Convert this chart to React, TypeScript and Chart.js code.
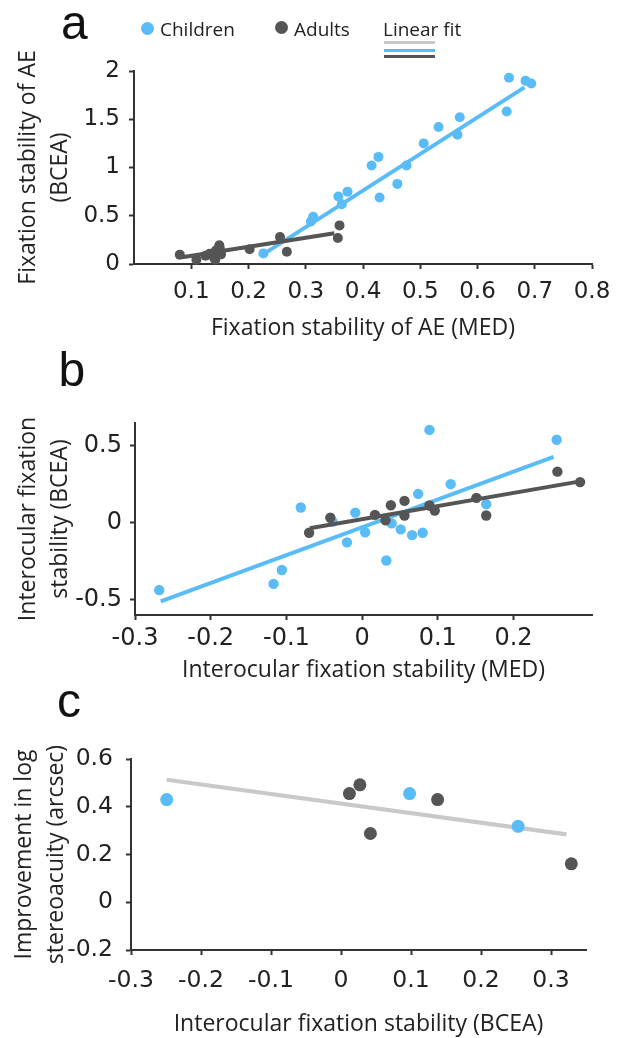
import React, { useEffect, useRef } from "react";
import { Chart, registerables } from "chart.js";

Chart.register(...registerables);

const BLUE = "#5abcf7";
const DARK = "#555555";
const LIGHT_GRAY = "#c9c9c9";
const INK = "#222222";
const AXIS = "#333333";

// ---------- Panel a ----------
const aChildX = [0.226, 0.309, 0.313, 0.357, 0.363, 0.373, 0.415, 0.427, 0.429, 0.46, 0.476, 0.506, 0.532, 0.569, 0.565, 0.651, 0.655, 0.684, 0.694];
const aChildY = [0.11, 0.44, 0.49, 0.7, 0.62, 0.75, 1.02, 1.11, 0.69, 0.83, 1.02, 1.25, 1.42, 1.52, 1.34, 1.58, 1.93, 1.9, 1.87];
const aAdultX = [0.08, 0.109, 0.125, 0.132, 0.14, 0.142, 0.143, 0.149, 0.15, 0.152, 0.202, 0.255, 0.267, 0.356, 0.359];
const aAdultY = [0.097, 0.045, 0.085, 0.105, 0.065, 0.045, 0.14, 0.195, 0.16, 0.1, 0.153, 0.28, 0.127, 0.27, 0.4];
const aFitChildX = [0.231, 0.682];
const aFitChildY = [0.121, 1.83];
const aFitAdultX = [0.084, 0.35];
const aFitAdultY = [0.069, 0.319];
const aXTicks = [0.1, 0.2, 0.3, 0.4, 0.5, 0.6, 0.7, 0.8];
const aYTicks = [0, 0.5, 1, 1.5, 2];

// ---------- Panel b ----------
const bChildX = [-0.268, -0.117, -0.106, -0.081, -0.039, -0.02, -0.009, 0.004, 0.032, 0.039, 0.051, 0.066, 0.074, 0.08, 0.089, 0.117, 0.164, 0.257];
const bChildY = [-0.44, -0.4, -0.31, 0.096, 0.004, -0.13, 0.063, -0.065, -0.248, -0.007, -0.046, -0.083, 0.185, -0.068, 0.6, 0.248, 0.118, 0.536];
const bAdultX = [-0.07, -0.042, 0.017, 0.031, 0.038, 0.056, 0.056, 0.089, 0.096, 0.151, 0.164, 0.258, 0.288];
const bAdultY = [-0.068, 0.03, 0.048, 0.013, 0.111, 0.139, 0.044, 0.109, 0.076, 0.159, 0.044, 0.329, 0.261];
const bFitChildX = [-0.266, 0.253];
const bFitChildY = [-0.514, 0.425];
const bFitAdultX = [-0.069, 0.288];
const bFitAdultY = [-0.039, 0.266];
const bXTicks = [-0.3, -0.2, -0.1, 0, 0.1, 0.2];
const bYTicks = [-0.5, 0, 0.5];

// ---------- Panel c ----------
const cChildX = [-0.249, 0.098, 0.253];
const cChildY = [0.43, 0.455, 0.318];
const cAdultX = [0.012, 0.027, 0.042, 0.138, 0.329];
const cAdultY = [0.455, 0.492, 0.288, 0.43, 0.161];
const cFitX = [-0.249, 0.322];
const cFitY = [0.513, 0.284];
const cXTicks = [-0.3, -0.2, -0.1, 0, 0.1, 0.2, 0.3];
const cYTicks = [-0.2, 0, 0.2, 0.4, 0.6];

const W = 626;
const TITLE_SIZE = 23;
const X_TITLE_LH = 1.2;
const Y_TITLE_LH = 1.4;
const TICK_FAMILY = "'DejaVu Sans', 'Liberation Sans', Arial, sans-serif";

function pts(xs: number[], ys: number[]) {
  return xs.map((x, i) => ({ x, y: ys[i] }));
}
function fmt(v: number) {
  return String(Math.round(v * 100) / 100);
}

function pointSet(label: string, xs: number[], ys: number[], color: string, r: number) {
  return {
    label,
    data: pts(xs, ys),
    showLine: false,
    pointRadius: r,
    pointHoverRadius: r,
    pointBackgroundColor: color,
    pointBorderColor: color,
    pointBorderWidth: 0,
    clip: false,
  };
}
function lineSet(label: string, xs: number[], ys: number[], color: string, w: number) {
  return {
    label,
    data: pts(xs, ys),
    showLine: true,
    borderColor: color,
    backgroundColor: color,
    borderWidth: w,
    borderCapStyle: "butt",
    pointRadius: 0,
    pointHoverRadius: 0,
    clip: false,
  };
}

interface PanelSpec {
  canvasTop: number;
  canvasHeight: number;
  left: number;
  right: number;
  top: number;
  bottom: number;
  xTitleY: number;
  yTitleX: number;
  xMin: number;
  xMax: number;
  yMin: number;
  yMax: number;
  xTicks: number[];
  yTicks: number[];
  xTitle: string;
  yTitle: string[];
  tickSize: number;
  xTickPad: number;
  yTickPad: number;
  datasets: any[];
}

function buildConfig(s: PanelSpec): any {
  const xLH = TITLE_SIZE * X_TITLE_LH;
  const yLH = TITLE_SIZE * Y_TITLE_LH;
  const padL = s.yTitleX - yLH / 2;
  const padT = s.top - s.canvasTop;
  const padR = W - s.right;
  const scaleBottom = s.xTitleY - s.canvasTop + xLH / 2;
  const padB = s.canvasHeight - scaleBottom;
  const yWidth = s.left - padL;
  const xHeight = scaleBottom - (s.bottom - s.canvasTop);
  const tickFont = { family: TICK_FAMILY, size: s.tickSize, lineHeight: 1.2 };
  const grid = {
    display: true,
    drawOnChartArea: false,
    drawTicks: true,
    tickLength: 5,
    tickWidth: 2,
    tickColor: AXIS,
  };
  const border = { display: true, color: AXIS, width: 2 };
  return {
    type: "scatter",
    data: { datasets: s.datasets },
    options: {
      animation: false,
      responsive: false,
      maintainAspectRatio: false,
      devicePixelRatio: 1,
      events: [],
      layout: { padding: { left: padL, right: padR, top: padT, bottom: padB } },
      plugins: { legend: { display: false }, tooltip: { enabled: false }, title: { display: false } },
      scales: {
        x: {
          type: "linear",
          position: "bottom",
          min: s.xMin,
          max: s.xMax,
          afterBuildTicks: (sc: any) => {
            sc.ticks = s.xTicks.map((v) => ({ value: v }));
          },
          afterFit: (sc: any) => {
            sc.height = xHeight;
          },
          ticks: {
            autoSkip: false,
            maxRotation: 0,
            minRotation: 0,
            padding: s.xTickPad,
            font: tickFont,
            color: INK,
            callback: (v: any) => fmt(Number(v)),
          },
          grid,
          border,
          title: {
            display: true,
            text: s.xTitle,
            color: INK,
            padding: 0,
            font: { family: "'Open Sans', sans-serif", size: TITLE_SIZE, lineHeight: X_TITLE_LH },
          },
        },
        y: {
          type: "linear",
          position: "left",
          min: s.yMin,
          max: s.yMax,
          afterBuildTicks: (sc: any) => {
            sc.ticks = s.yTicks.map((v) => ({ value: v }));
          },
          afterFit: (sc: any) => {
            sc.width = yWidth;
          },
          ticks: {
            autoSkip: false,
            padding: s.yTickPad,
            font: tickFont,
            color: INK,
            callback: (v: any) => fmt(Number(v)),
          },
          grid,
          border,
          title: {
            display: true,
            text: s.yTitle,
            color: INK,
            padding: 0,
            font: { family: "'Open Sans', sans-serif", size: TITLE_SIZE, lineHeight: Y_TITLE_LH },
          },
        },
      },
    },
  };
}

const specA: PanelSpec = {
  canvasTop: 0,
  canvasHeight: 346,
  left: 134,
  right: 592,
  top: 71,
  bottom: 264,
  xTitleY: 328,
  yTitleX: 28,
  xMin: 0,
  xMax: 0.8,
  yMin: 0,
  yMax: 2,
  xTicks: aXTicks,
  yTicks: aYTicks,
  xTitle: "Fixation stability of AE (MED)",
  yTitle: ["Fixation stability of AE", "(BCEA)"],
  tickSize: 23,
  xTickPad: 9,
  yTickPad: 9,
  datasets: [
    lineSet("Adults fit", aFitAdultX, aFitAdultY, DARK, 4),
    pointSet("Adults", aAdultX, aAdultY, DARK, 5),
    lineSet("Children fit", aFitChildX, aFitChildY, BLUE, 4),
    pointSet("Children", aChildX, aChildY, BLUE, 5),
  ],
};

const specB: PanelSpec = {
  canvasTop: 340,
  canvasHeight: 350,
  left: 135,
  right: 592,
  top: 423,
  bottom: 615,
  xTitleY: 670,
  yTitleX: 28,
  xMin: -0.3,
  xMax: 0.3037,
  yMin: -0.602,
  yMax: 0.645,
  xTicks: bXTicks,
  yTicks: bYTicks,
  xTitle: "Interocular fixation stability (MED)",
  yTitle: ["Interocular fixation", "stability (BCEA)"],
  tickSize: 24,
  xTickPad: 4,
  yTickPad: 8,
  datasets: [
    lineSet("Adults fit", bFitAdultX, bFitAdultY, DARK, 4),
    pointSet("Adults", bAdultX, bAdultY, DARK, 5.2),
    lineSet("Children fit", bFitChildX, bFitChildY, BLUE, 4),
    pointSet("Children", bChildX, bChildY, BLUE, 5.2),
  ],
};

const specC: PanelSpec = {
  canvasTop: 692,
  canvasHeight: 346,
  left: 131,
  right: 586,
  top: 759,
  bottom: 950,
  xTitleY: 1024,
  yTitleX: 24,
  xMin: -0.3,
  xMax: 0.35,
  yMin: -0.2,
  yMax: 0.6,
  xTicks: cXTicks,
  yTicks: cYTicks,
  xTitle: "Interocular fixation stability (BCEA)",
  yTitle: ["Improvement in log", "stereoacuity (arcsec)"],
  tickSize: 23.5,
  xTickPad: 12,
  yTickPad: 13,
  datasets: [
    pointSet("Adults", cAdultX, cAdultY, DARK, 6.5),
    pointSet("Children", cChildX, cChildY, BLUE, 6.5),
    lineSet("Linear fit", cFitX, cFitY, LIGHT_GRAY, 4.2),
  ],
};

function Panel({ spec }: { spec: PanelSpec }) {
  const ref = useRef<HTMLCanvasElement | null>(null);
  useEffect(() => {
    if (!ref.current) return;
    const chart = new Chart(ref.current, buildConfig(spec));
    return () => chart.destroy();
  }, [spec]);
  return (
    <canvas
      ref={ref}
      width={W}
      height={spec.canvasHeight}
      style={{ position: "absolute", left: 0, top: spec.canvasTop, width: W, height: spec.canvasHeight }}
    />
  );
}

const LETTER_FONT = "'Liberation Sans', Arial, sans-serif";
function Letter({ text, left, baseline }: { text: string; left: number; baseline: number }) {
  // line-height 48px => baseline sits ~40.6px below top for Liberation Sans
  return (
    <div
      style={{
        position: "absolute",
        left,
        top: baseline - 40.6,
        fontFamily: LETTER_FONT,
        fontSize: 48,
        lineHeight: "48px",
        color: "#111",
        whiteSpace: "nowrap",
      }}
    >
      {text}
    </div>
  );
}

const LEG_FONT = "'Open Sans', sans-serif";
function LegText({ text, left, baseline }: { text: string; left: number; baseline: number }) {
  return (
    <div
      style={{
        position: "absolute",
        left,
        top: baseline - 16.9,
        fontFamily: LEG_FONT,
        fontSize: 19,
        lineHeight: "19px",
        color: INK,
        whiteSpace: "nowrap",
      }}
    >
      {text}
    </div>
  );
}
function Dot({ cx, cy, color }: { cx: number; cy: number; color: string }) {
  return (
    <div
      style={{
        position: "absolute",
        left: cx - 6.5,
        top: cy - 6.5,
        width: 13,
        height: 13,
        borderRadius: "50%",
        background: color,
      }}
    />
  );
}
function Bar({ y, color }: { y: number; color: string }) {
  return (
    <div style={{ position: "absolute", left: 384, top: y - 1.5, width: 51, height: 3, background: color }} />
  );
}

export default function App() {
  return (
    <div
      style={{
        position: "absolute",
        left: 0,
        top: 0,
        width: W,
        height: 1038,
        overflow: "hidden",
        background: "#fff",
      }}
    >
      <Panel spec={specA} />
      <Panel spec={specB} />
      <Panel spec={specC} />
      <Letter text="a" left={61} baseline={39.5} />
      <Letter text="b" left={58.5} baseline={386.5} />
      <Letter text="c" left={57} baseline={717.3} />
      <Dot cx={147.5} cy={28} color={BLUE} />
      <LegText text="Children" left={160} baseline={36.7} />
      <Dot cx={281} cy={27.5} color={DARK} />
      <LegText text="Adults" left={294} baseline={36.7} />
      <LegText text="Linear fit" left={383} baseline={36.7} />
      <Bar y={42.7} color={LIGHT_GRAY} />
      <Bar y={50} color={BLUE} />
      <Bar y={56.7} color={DARK} />
    </div>
  );
}
